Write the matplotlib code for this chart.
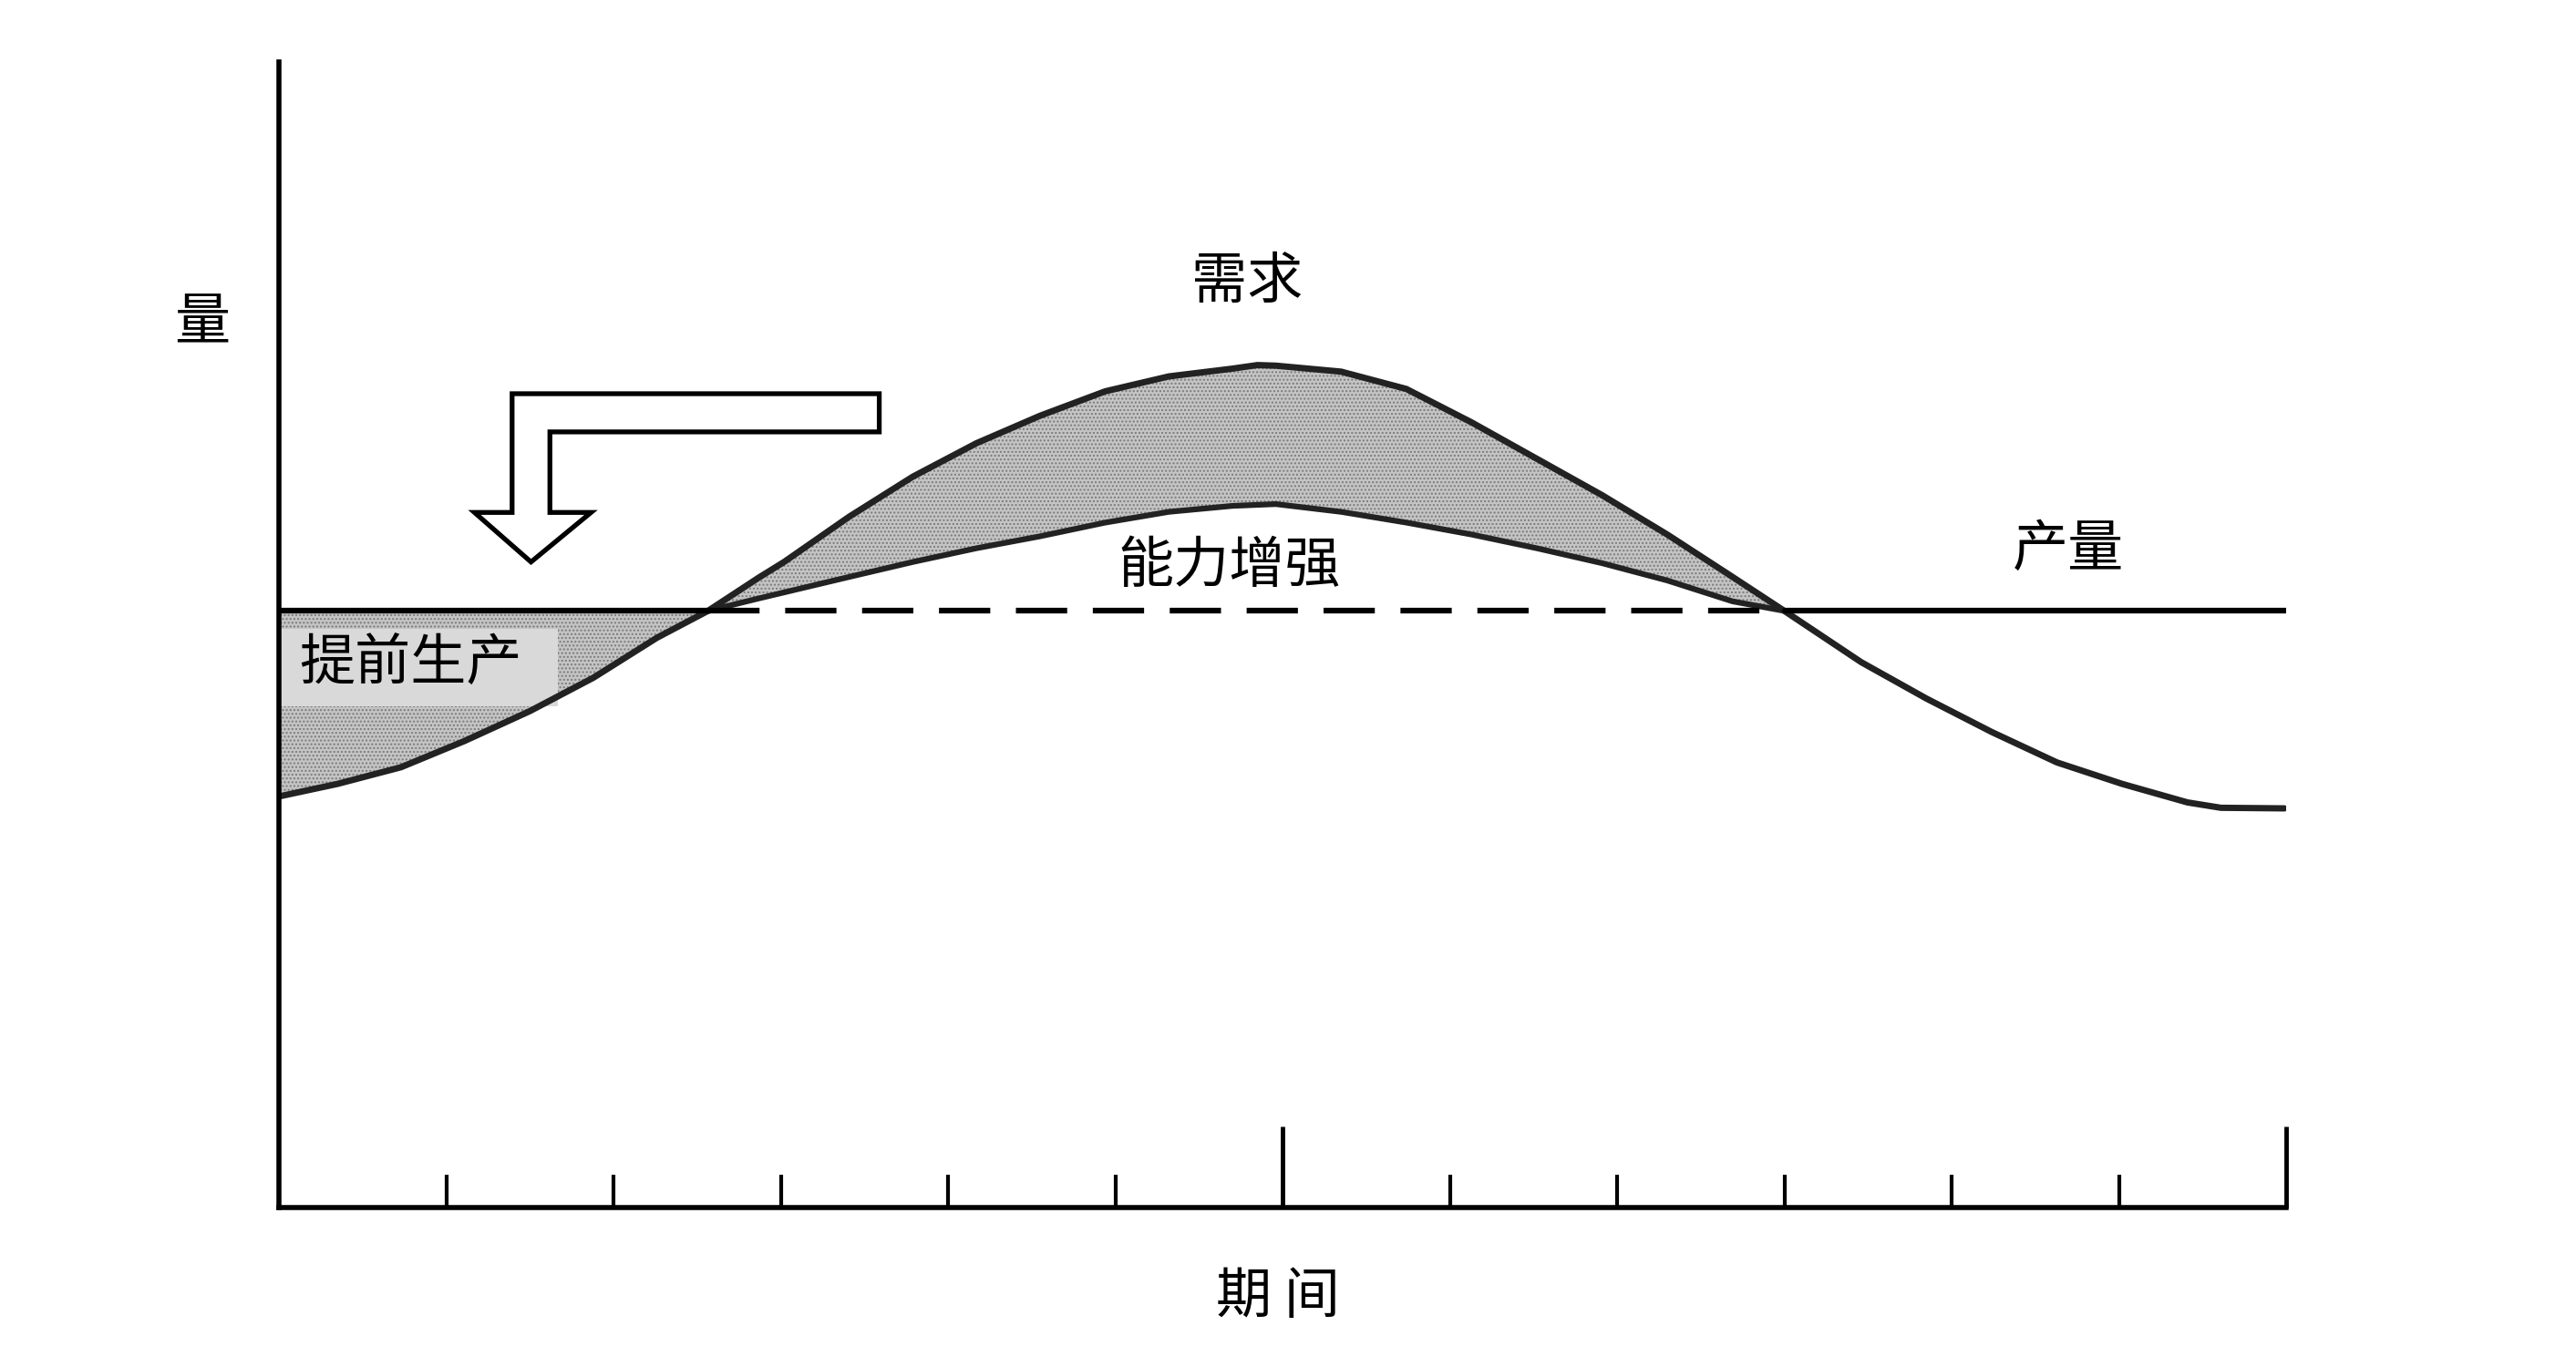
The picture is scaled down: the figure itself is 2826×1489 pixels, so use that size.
import numpy as np
import matplotlib
matplotlib.use("Agg")
import matplotlib.pyplot as plt
from matplotlib.patches import Polygon, Rectangle

plt.rcParams['font.family'] = ['Noto Sans CJK SC', 'DejaVu Sans']

# period axis 0..12, quantity with the production level at 100
production = 100
demand_t = [0, 0.35, 0.73, 1.11, 1.5, 1.88, 2.26, 2.565, 2.87, 3.02, 3.41, 3.79,
            4.17, 4.55, 4.94, 5.32, 5.7, 5.85, 5.96, 6.35, 6.74, 7.13, 7.52,
            7.91, 8.3, 8.69, 9.0, 9.46, 9.85, 10.24, 10.63, 11.02, 11.41,
            11.61, 11.99]
demand_q = [68.9, 71.0, 73.8, 78.2, 83.2, 88.8, 95.5, 100, 105.6, 108.2, 115.8,
            122.5, 128.1, 132.7, 136.8, 139.3, 140.6, 141.2, 141.1, 140.1, 137.2,
            131.6, 125.5, 119.4, 112.8, 105.7, 100, 91.4, 85.3, 79.7, 74.6,
            71.0, 67.9, 67.0, 66.9]
capacity_t = [2.565, 2.87, 3.02, 3.41, 3.79, 4.17, 4.55, 4.94, 5.32, 5.7, 5.96,
              6.35, 6.74, 7.13, 7.52, 7.91, 8.3, 8.69, 9.0]
capacity_q = [100, 102.1, 103.1, 105.7, 108.2, 110.5, 112.5, 114.8, 116.6, 117.6,
              117.9, 116.6, 114.8, 112.8, 110.5, 108.0, 105.1, 101.6, 100]
cross_left = 2.565
cross_right = 9.0
periods = list(range(13))
long_ticks = [6, 12]

# L-shaped hollow arrow (data coords)
arrow_pts = [(1.394, 136.4), (3.589, 136.4), (3.589, 130.0), (1.62, 130.0),
             (1.62, 116.5), (1.866, 116.5), (1.507, 108.2), (1.169, 116.5),
             (1.394, 116.5)]
# grey box behind the "early production" label
label_box = (0, 84.0, 1.67, 13.0)

W, H = 2826, 1489
fig = plt.figure(figsize=(W / 100, H / 100), dpi=100)
ax = fig.add_axes([306 / W, 1 - 1325 / H, (2508 - 306) / W, (1325 - 68) / H])
ax.set_xlim(0, 12)
ax.set_ylim(0, 192)

t = np.array(demand_t)
q = np.array(demand_q)
shade = dict(facecolor="#c4c4c4", edgecolor="#7a7a7a", hatch="....", linewidth=0)

# early production area
left = t <= cross_left
ax.fill_between(t[left], q[left], production, **shade, zorder=1)

# capacity increase area
mid = (t >= cross_left) & (t <= cross_right)
poly_x = np.concatenate([t[mid], capacity_t[::-1]])
poly_y = np.concatenate([q[mid], capacity_q[::-1]])
ax.fill(poly_x, poly_y, **shade, zorder=1)

bx, by, bw, bh = label_box
ax.add_patch(Rectangle((bx, by), bw, bh, facecolor="#d9d9d9", edgecolor="none", zorder=1.5))

# production line: solid - dashed - solid
ax.plot([0, cross_left], [production, production], color="black", lw=4.5, zorder=3)
ax.plot([cross_left, cross_right], [production, production], color="black", lw=4.5,
        dashes=(9, 4.5), zorder=3)
ax.plot([cross_right, 12], [production, production], color="black", lw=4.5,
        solid_capstyle="round", zorder=3)

ax.plot(capacity_t, capacity_q, color="#222222", lw=4.5, zorder=2)
ax.plot(t, q, color="#222222", lw=5, solid_capstyle="round", zorder=2)

ax.add_patch(Polygon(arrow_pts, closed=True, facecolor="white", edgecolor="black",
                     lw=3.8, joinstyle="miter", zorder=4))

ax.text(0.12, 90.9, "提前生产", fontsize=44, ha="left", va="center", zorder=5)
ax.text(5.79, 155.1, "需求", fontsize=44, ha="center", va="center")
ax.text(5.68, 107.4, "能力增强", fontsize=44, ha="center", va="center")
ax.text(10.70, 110.2, "产量", fontsize=44, ha="center", va="center")
fig.text(222 / W, 1 - 355 / H, "量", fontsize=44, ha="center", va="center")
fig.text(1402 / W, 1 - 1424 / H, "期 间", fontsize=44, ha="center", va="center")

for s in ["top", "right"]:
    ax.spines[s].set_visible(False)
for s in ["left", "bottom"]:
    ax.spines[s].set_linewidth(4)
ax.set_yticks([])
ax.set_xticks([p for p in periods if p not in long_ticks and p != 0])
ax.set_xticks(long_ticks, minor=True)
ax.tick_params(axis="x", which="major", direction="in", length=26, width=3,
               labelbottom=False)
ax.tick_params(axis="x", which="minor", direction="in", length=64, width=3.5,
               labelbottom=False)

fig.savefig("out.png", dpi=100)
